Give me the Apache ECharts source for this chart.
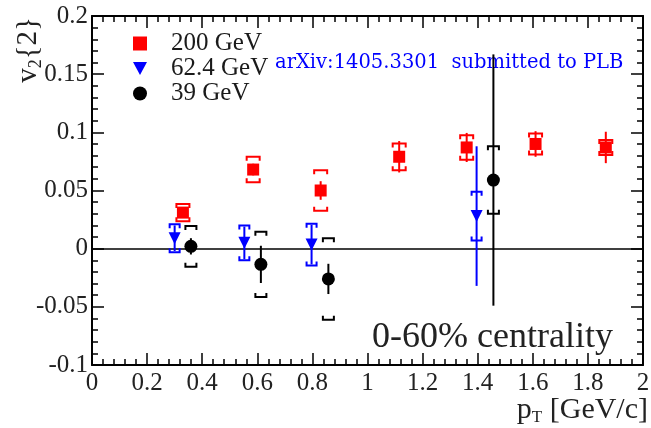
<!DOCTYPE html>
<html>
<head>
<meta charset="utf-8">
<script src="https://cdn.jsdelivr.net/npm/echarts@6/dist/echarts.min.js"></script>
<style>
  html, body { margin: 0; padding: 0; background: #fff; }
  #chart { width: 651px; height: 428px; }
</style>
</head>
<body>
<div id="chart"></div>
<script>
// v2{2} vs pT for three beam energies (0-60% centrality)
const pt200   = [0.33, 0.585, 0.83, 1.115, 1.36, 1.61, 1.865];
const v2_200  = [0.031, 0.068, 0.050, 0.079, 0.087, 0.090, 0.087];
const stat200 = [0.004, 0.005, 0.008, 0.0135, 0.0125, 0.011, 0.0135];
const sys200  = [0.0075, 0.011, 0.0175, 0.0115, 0.0105, 0.009, 0.0065];

const pt62   = [0.30, 0.553, 0.797, 1.396];
const v2_62  = [0.009, 0.005, 0.0035, 0.028];
const stat62 = [0.011, 0.014, 0.017, 0.060];
const sys62  = [0.012, 0.015, 0.018, 0.021];

const pt39   = [0.359, 0.613, 0.858, 1.457];
const v2_39  = [0.002, -0.0135, -0.026, 0.059];
const stat39 = [0.007, 0.016, 0.013, 0.108];
const sys39  = [0.0175, 0.028, 0.035, 0.029];

const seriesNames = ['200 GeV', '62.4 GeV', '39 GeV'];
const xTicks = { min: 0, max: 2, step: 0.2 };
const yTicks = { min: -0.1, max: 0.2, step: 0.05 };

const SERIF = '"Liberation Serif", "Times New Roman", serif';
const TRI_DOWN = 'path://M0,0 L12,0 L6,11 Z';

function rows(xs, ys, es) { return xs.map((x, i) => [x, ys[i], es[i]]); }

function statBar(color) {
  return function (params, api) {
    const x = api.value(0), y = api.value(1), e = api.value(2);
    const a = api.coord([x, y + e]), b = api.coord([x, y - e]);
    return { type: 'line', shape: { x1: a[0], y1: a[1], x2: b[0], y2: b[1] },
             style: { stroke: color, lineWidth: 2 } };
  };
}

function sysBracket(color, w, leg) {
  return function (params, api) {
    const x = api.value(0), y = api.value(1), s = api.value(2);
    const t = api.coord([x, y + s]), b = api.coord([x, y - s]);
    const h = w / 2;
    const st = { stroke: color, lineWidth: 2, fill: null };
    return { type: 'group', children: [
      { type: 'polyline', shape: { points: [[t[0] - h, t[1] + leg], [t[0] - h, t[1]], [t[0] + h, t[1]], [t[0] + h, t[1] + leg]] }, style: st },
      { type: 'polyline', shape: { points: [[b[0] - h, b[1] - leg], [b[0] - h, b[1]], [b[0] + h, b[1]], [b[0] + h, b[1] - leg]] }, style: st }
    ] };
  };
}

function errSeries(data, fn, z) {
  return { type: 'custom', data: data, renderItem: fn, z: z, silent: true,
           encode: { x: 0, y: 1 }, clip: false };
}

const axisLine = { show: true, onZero: false, lineStyle: { color: '#000', width: 2 } };
const tickX = { show: true, inside: true, length: 12, lineStyle: { color: '#000', width: 1.5 } };
const minorX = { show: true, splitNumber: 5, length: 6, lineStyle: { color: '#000', width: 1.5 } };

const chart = echarts.init(document.getElementById('chart'), null, { renderer: 'canvas' });
chart.setOption({
  animation: false,
  backgroundColor: '#fff',
  grid: { left: 92, right: 8, top: 16, bottom: 63, containLabel: false, outerBoundsMode: 'none' },
  legend: {
    data: [
      { name: seriesNames[0], icon: 'rect' },
      { name: seriesNames[1], icon: TRI_DOWN },
      { name: seriesNames[2], icon: 'circle' }
    ],
    orient: 'vertical', left: 128, top: 26,
    itemWidth: 14, itemHeight: 14, itemGap: 0,
    selectedMode: false,
    formatter: n => '{g|}{t|' + n + '}',
    textStyle: {
      rich: {
        g: { width: 19 },
        t: { fontFamily: SERIF, fontSize: 25, color: '#1a1a1a', lineHeight: 23 }
      }
    }
  },
  xAxis: [
    { type: 'value', position: 'bottom', min: xTicks.min, max: xTicks.max, interval: xTicks.step,
      axisLine: axisLine, axisTick: tickX, minorTick: minorX, splitLine: { show: false }, minorSplitLine: { show: false },
      axisLabel: { margin: 6, fontFamily: SERIF, fontSize: 25, color: '#222',
                   formatter: v => String(Math.round(v * 10) / 10) } },
    { type: 'value', position: 'top', min: xTicks.min, max: xTicks.max, interval: xTicks.step,
      axisLine: axisLine, axisTick: tickX, minorTick: minorX, splitLine: { show: false },
      axisLabel: { show: false } }
  ],
  yAxis: [
    { type: 'value', position: 'left', min: yTicks.min, max: yTicks.max, interval: yTicks.step,
      axisLine: axisLine, axisTick: tickX, minorTick: minorX, splitLine: { show: false }, minorSplitLine: { show: false },
      axisLabel: { margin: 4, fontFamily: SERIF, fontSize: 25, color: '#222',
                   formatter: v => String(Math.round(v * 100) / 100) } },
    { type: 'value', position: 'right', min: yTicks.min, max: yTicks.max, interval: yTicks.step,
      axisLine: axisLine, axisTick: tickX, minorTick: minorX, splitLine: { show: false },
      axisLabel: { show: false } }
  ],
  graphic: [
    // y-axis title, reading upward, ending at the top of the frame
    { type: 'text', x: 28, y: 17, rotation: Math.PI / 2, z: 1,
      style: { text: '{v|v}{s|2}{2}', align: 'right', verticalAlign: 'middle',
        fontFamily: SERIF, fontSize: 29, fill: '#222',
        rich: {
          v: { fontFamily: SERIF, fontSize: 29, fill: '#222', lineHeight: 30 },
          s: { fontFamily: SERIF, fontSize: 18, fill: '#222', lineHeight: 20, padding: [16, 0, 0, 0] }
        } } },
    // x-axis title, right-aligned under the axis end
    { type: 'text', x: 648, y: 410, z: 1,
      style: { text: '{p|p}{s|T}{p| [GeV/c]}', align: 'right', verticalAlign: 'middle',
        fontFamily: SERIF, fontSize: 30, fill: '#222',
        rich: {
          p: { fontFamily: SERIF, fontSize: 30, fill: '#222', lineHeight: 30 },
          s: { fontFamily: SERIF, fontSize: 17, fill: '#222', lineHeight: 20, padding: [16, 0, 0, 0] }
        } } },
    { type: 'text', x: 275, y: 63, z: 1,
      style: { text: 'arXiv:1405.3301  submitted to PLB', fontFamily: '"DejaVu Serif", serif', fontSize: 19.5,
               fill: '#0000ff', verticalAlign: 'middle' } },
    { type: 'text', x: 372, y: 338, z: 1,
      style: { text: '0-60% centrality', fontFamily: SERIF, fontSize: 36, fill: '#222', verticalAlign: 'middle' } }
  ],
  series: [
    { type: 'line', data: [], silent: true, z: 1,
      markLine: { silent: true, symbol: 'none', label: { show: false },
                  lineStyle: { color: '#000', width: 1.5, type: 'solid' },
                  data: [{ yAxis: 0 }] } },

    errSeries(rows(pt200, v2_200, stat200), statBar('#ff0000'), 3),
    errSeries(rows(pt200, v2_200, sys200), sysBracket('#ff0000', 13, 4), 3),
    { name: seriesNames[0], type: 'scatter', symbol: 'rect', symbolSize: 12, z: 4,
      itemStyle: { color: '#ff0000', opacity: 1 }, data: pt200.map((x, i) => [x, v2_200[i]]) },

    errSeries(rows(pt62, v2_62, stat62), statBar('#0000ff'), 5),
    errSeries(rows(pt62, v2_62, sys62), sysBracket('#0000ff', 10, 4), 5),
    { name: seriesNames[1], type: 'scatter', symbol: TRI_DOWN, symbolSize: 12, z: 6,
      itemStyle: { color: '#0000ff', opacity: 1 }, data: pt62.map((x, i) => [x, v2_62[i]]) },

    errSeries(rows(pt39, v2_39, stat39), statBar('#000000'), 7),
    errSeries(rows(pt39, v2_39, sys39), sysBracket('#000000', 11, 4), 7),
    { name: seriesNames[2], type: 'scatter', symbol: 'circle', symbolSize: 13, z: 8,
      itemStyle: { color: '#000000', opacity: 1 }, data: pt39.map((x, i) => [x, v2_39[i]]) }
  ]
});
</script>
</body>
</html>
